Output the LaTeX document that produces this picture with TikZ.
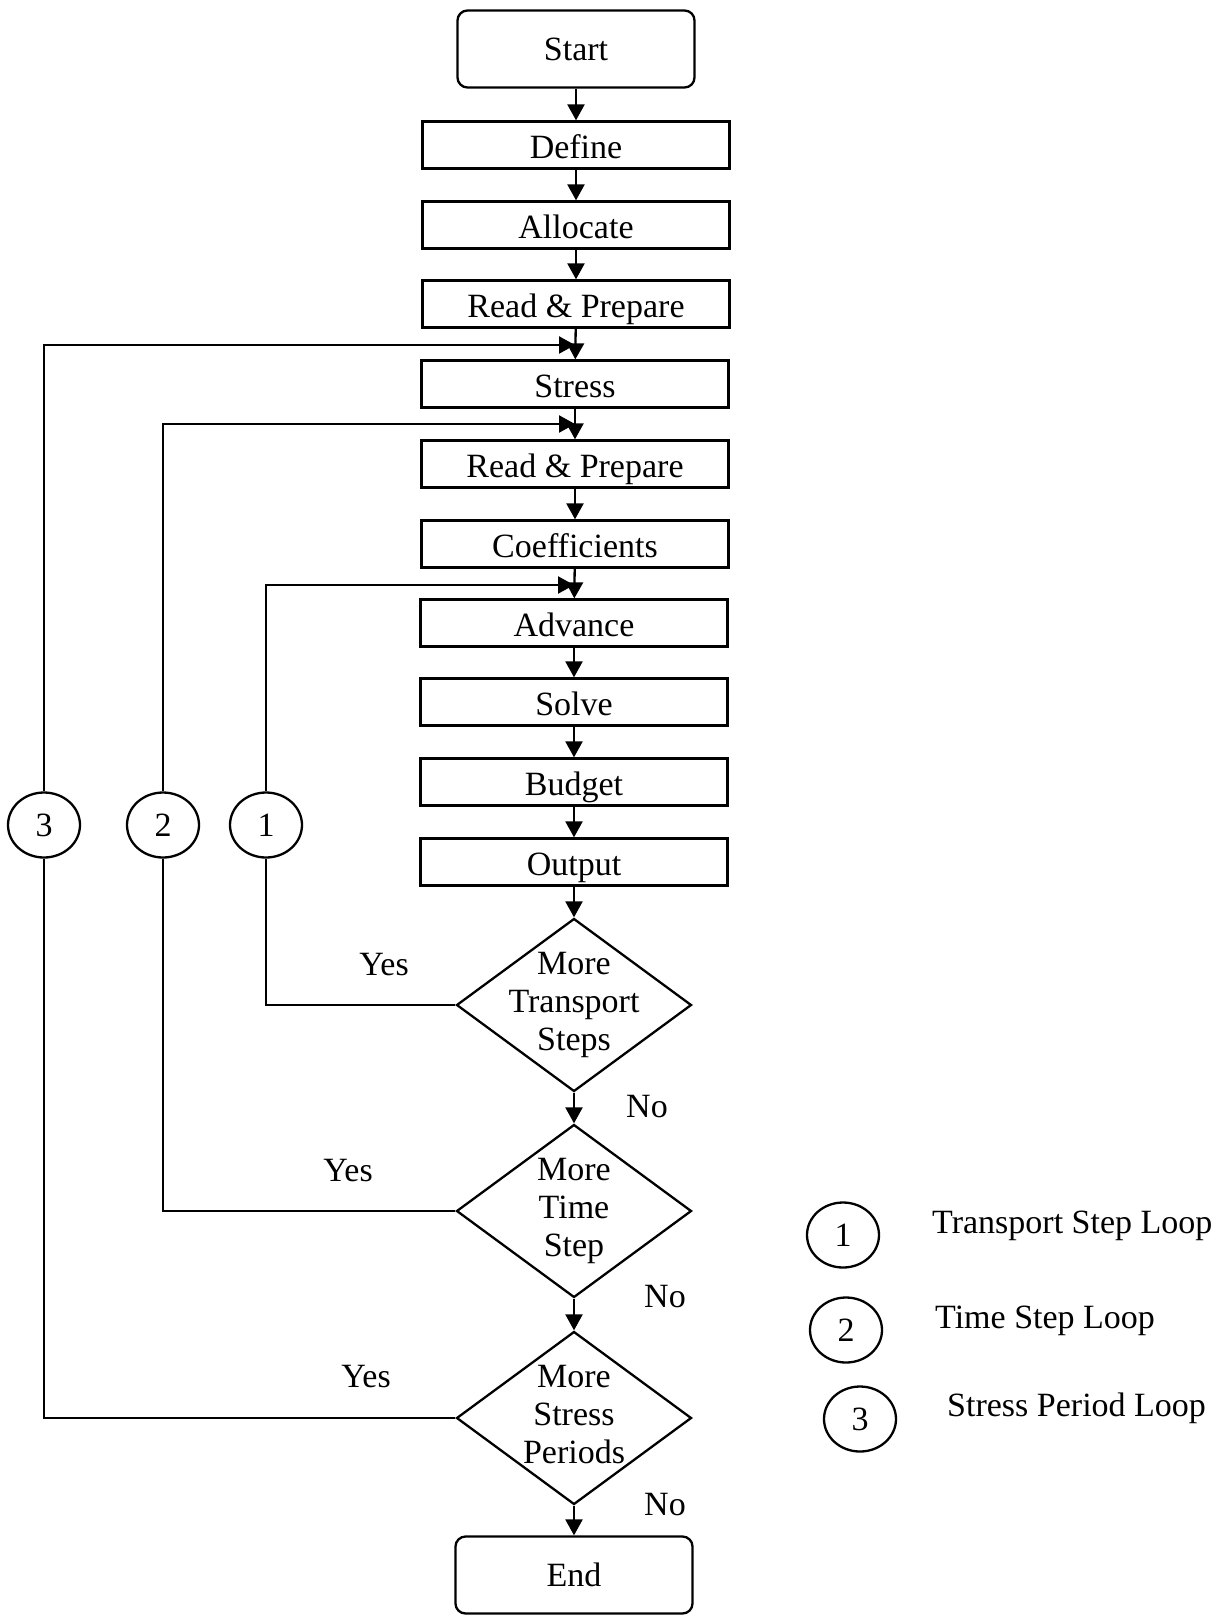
\documentclass[tikz,border=0pt]{standalone}
\usepackage{fontspec}
\setmainfont{Liberation Serif}
\usetikzlibrary{shapes.geometric,arrows.meta}
\begin{document}
\begin{tikzpicture}[x=1pt,y=-1pt,
  every node/.style={font=\fontsize{34}{38}\selectfont},
  proc/.style={draw, line width=2.3pt, rectangle, minimum width=307pt, minimum height=47pt, inner sep=0pt, text height=27pt, text depth=0pt},
  term/.style={draw, line width=2.3pt, rounded corners=10pt, minimum width=237pt, minimum height=77pt, inner sep=0pt},
  decision/.style={draw, line width=2.3pt, diamond, minimum width=235pt, minimum height=173pt, inner sep=0pt},
  loopmark/.style={draw, line width=2.3pt, ellipse, minimum width=72pt, minimum height=65pt, inner sep=0pt},
  flow/.style={line width=2.3pt, -{Triangle[length=16pt,width=17pt]}},
  wire/.style={line width=2.3pt},
  tag/.style={inner sep=0pt},
  ]
\useasboundingbox (0,0) rectangle (1229,1616);

% main column
\node[term] (start) at (576,49) {Start};
\node[proc] (define) at (576,145) {Define};
\node[proc] (alloc) at (576,225) {Allocate};
\node[proc] (read1) at (576,304) {Read \& Prepare};
\node[proc] (stress) at (575,384) {Stress};
\node[proc] (read2) at (575,464) {Read \& Prepare};
\node[proc] (coef) at (575,544) {Coefficients};
\node[proc] (adv) at (574,623) {Advance};
\node[proc] (solve) at (574,702) {Solve};
\node[proc] (budget) at (574,782) {Budget};
\node[proc] (output) at (574,862) {Output};

\node[decision, label=center:{\begin{tabular}{@{}c@{}}More\\Transport\\Steps\end{tabular}}] (d1) at (574,1005) {};
\node[decision, label=center:{\begin{tabular}{@{}c@{}}More\\Time\\Step\end{tabular}}] (d2) at (574,1211) {};
\node[decision, label=center:{\begin{tabular}{@{}c@{}}More\\Stress\\Periods\end{tabular}}] (d3) at (574,1418) {};
\node[term] (end) at (574,1575) {End};

% straight flow
\draw[flow] (start) -- (define);
\draw[flow] (define) -- (alloc);
\draw[flow] (alloc) -- (read1);
\draw[flow] (read1) -- (stress);
\draw[flow] (stress) -- (read2);
\draw[flow] (read2) -- (coef);
\draw[flow] (coef) -- (adv);
\draw[flow] (adv) -- (solve);
\draw[flow] (solve) -- (budget);
\draw[flow] (budget) -- (output);
\draw[flow] (output) -- (d1);
\draw[flow] (d1) -- (d2);
\draw[flow] (d2) -- (d3);
\draw[flow] (d3) -- (end);

% loop markers
\node[loopmark] (m3) at (44,825) {3};
\node[loopmark] (m2) at (163,825) {2};
\node[loopmark] (m1) at (266,825) {1};

% loop re-entry points on the main column
\coordinate (j3) at (575,345);
\coordinate (j2) at (575,424);
\coordinate (j1) at (574,585);

% loop return paths
\draw[wire] (d1.west) -| (m1.south);
\draw[flow] (m1.north) |- (j1);
\draw[wire] (d2.west) -| (m2.south);
\draw[flow] (m2.north) |- (j2);
\draw[wire] (d3.west) -| (m3.south);
\draw[flow] (m3.north) |- (j3);

% branch labels
\node[tag] (y1) at (384,965) {Yes};
\node[tag] (n1) at (647,1107) {No};
\node[tag] (y2) at (348,1171) {Yes};
\node[tag] (n2) at (665,1297) {No};
\node[tag] (y3) at (366,1377) {Yes};
\node[tag] (n3) at (665,1505) {No};

% legend
\node[loopmark] (k1) at (843,1235) {1};
\node[loopmark] (k2) at (846,1330) {2};
\node[loopmark] (k3) at (860,1419) {3};
\node[tag, anchor=west] (t1) at (932,1226) {Transport Step Loop};
\node[tag, anchor=west] (t2) at (935,1321) {Time Step Loop};
\node[tag, anchor=west] (t3) at (947,1408) {Stress Period Loop};
\end{tikzpicture}
\end{document}
